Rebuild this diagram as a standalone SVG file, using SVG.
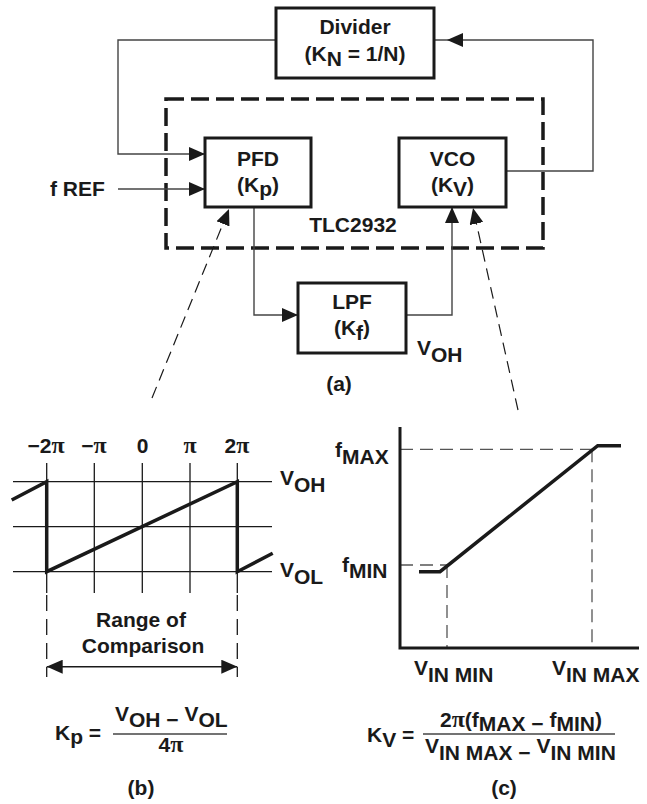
<svg xmlns="http://www.w3.org/2000/svg" width="647" height="804" viewBox="0 0 647 804">
<defs>
<style>
text{font-family:"Liberation Sans",Arial,sans-serif;font-weight:bold;font-size:21px;fill:#1a1a1a}
.m{text-anchor:middle}
.pi{font-family:"Liberation Serif","Times New Roman",serif;font-size:24px}
.box{fill:#fff;stroke:#1a1a1a;stroke-width:3}
.wire{fill:none;stroke:#444;stroke-width:1.4}
.tlc{fill:none;stroke:#1a1a1a;stroke-width:3.5;stroke-dasharray:18 7}
.ptr{fill:none;stroke:#1a1a1a;stroke-width:1.2;stroke-dasharray:12 7}
.grid{fill:none;stroke:#1a1a1a;stroke-width:1.3}
.bold{fill:none;stroke:#1a1a1a;stroke-width:3.5}
.gdash{fill:none;stroke:#555;stroke-width:1.3;stroke-dasharray:13 7}
.vdash{fill:none;stroke:#1a1a1a;stroke-width:1.3;stroke-dasharray:16 8}
.frac{stroke:#444;stroke-width:1.5}
.ah{fill:#1a1a1a}
</style>
<marker id="ah" viewBox="0 0 16 14" refX="16" refY="7" markerWidth="16" markerHeight="14" markerUnits="userSpaceOnUse" orient="auto-start-reverse"><path d="M0,0 L16,7 L0,14 z" fill="#1a1a1a"/></marker>
</defs>
<rect width="647" height="804" fill="#fff"/>

<g id="tlc2932">
<rect class="tlc" x="166" y="99" width="377" height="149"/>
<text class="m" x="353" y="232">TLC2932</text>
</g>

<g id="connectors">
<path class="wire" d="M276,40 H118 V154 H205" marker-end="url(#ah)"/>
<path class="wire" d="M118,189 H205" marker-end="url(#ah)"/>
<path class="wire" d="M507,171 H593 V40 H434"/>
<polygon class="ah" points="447,40 463,33 463,47"/>
<path class="wire" d="M254,207 V315 H298" marker-end="url(#ah)"/>
<path class="wire" d="M406,315 H452 V207" marker-end="url(#ah)"/>
<path class="ptr" d="M152,398 L229,209" marker-end="url(#ah)"/>
<path class="ptr" d="M518,410 L473,208" marker-end="url(#ah)"/>
</g>

<g id="divider">
<rect class="box" x="276" y="8" width="158" height="70"/>
<text class="m" x="355" y="34">Divider</text>
<text class="m" x="355" y="61">(K<tspan dy="5">N</tspan><tspan dy="-5"> = 1/N)</tspan></text>
</g>

<g id="pfd">
<rect class="box" x="205" y="138" width="106" height="69"/>
<text class="m" x="258" y="166">PFD</text>
<text class="m" x="258" y="192">(K<tspan dy="4">p</tspan><tspan dy="-4">)</tspan></text>
</g>

<g id="vco">
<rect class="box" x="399" y="138" width="107" height="69"/>
<text class="m" x="452.5" y="166">VCO</text>
<text class="m" x="452.5" y="192">(K<tspan dy="4">V</tspan><tspan dy="-4">)</tspan></text>
</g>

<g id="lpf">
<rect class="box" x="298" y="283" width="108" height="70"/>
<text class="m" x="352" y="309">LPF</text>
<text class="m" x="352" y="335">(K<tspan dy="5">f</tspan><tspan dy="-5">)</tspan></text>
</g>

<g id="labels-a">
<text x="50" y="196">f REF</text>
<text x="417" y="355">V<tspan dy="7">OH</tspan></text>
<text class="m" x="339" y="391">(a)</text>
</g>

<g id="graph-b">
<path class="grid" d="M13,481.7 H272 M13,526.7 H272 M13,571.7 H272 M46.7,463 V593 M94.3,463 V593 M142.3,463 V593 M190,463 V593 M237.3,463 V593"/>
<polyline class="bold" points="11.7,500 46.7,481.7 46.7,571.7 237.3,481.7 237.3,571.7 272.7,553.3"/>
<text class="m" x="46" y="453">−2<tspan class="pi">π</tspan></text>
<text class="m" x="94" y="453">−<tspan class="pi">π</tspan></text>
<text class="m" x="142.5" y="453">0</text>
<text class="m" x="190" y="453"><tspan class="pi">π</tspan></text>
<text class="m" x="237" y="453">2<tspan class="pi">π</tspan></text>
<text x="280" y="485">V<tspan dy="7">OH</tspan></text>
<text x="280" y="577">V<tspan dy="7">OL</tspan></text>
<path class="vdash" d="M46.7,595 V677 M237.3,595 V677"/>
<path class="wire" style="stroke:#1a1a1a;stroke-width:1.5" d="M46.7,666.7 H237.3" marker-start="url(#ah)" marker-end="url(#ah)"/>
<text class="m" x="141" y="627">Range of</text>
<text class="m" x="143" y="653">Comparison</text>
</g>

<g id="formula-b">
<text x="55" y="740">K<tspan dy="4">p</tspan><tspan dy="-4"> =</tspan></text>
<text x="115" y="721">V<tspan dy="6">OH − </tspan><tspan dy="-6">V</tspan><tspan dy="6">OL</tspan></text>
<line class="frac" x1="113" y1="734" x2="227" y2="734"/>
<text class="m" x="171" y="752">4<tspan class="pi">π</tspan></text>
<text class="m" x="141" y="795">(b)</text>
</g>

<g id="graph-c">
<path class="gdash" d="M400,449.3 H593 M592,449.3 V648 M400,565 H447 M447,565 V648"/>
<polyline class="bold" points="400,427 400,648 639,648" style="stroke-width:3"/>
<polyline class="bold" points="419,571.7 440,571.7 597.7,445.7 621,445.7"/>
<text x="335" y="457">f<tspan dy="7">MAX</tspan></text>
<text x="342" y="572">f<tspan dy="6">MIN</tspan></text>
<text x="414" y="675">V<tspan dy="7">IN MIN</tspan></text>
<text x="552" y="675">V<tspan dy="7">IN MAX</tspan></text>
</g>

<g id="formula-c">
<text x="367" y="742">K<tspan dy="5">V</tspan><tspan dy="-5"> =</tspan></text>
<text x="440" y="727">2<tspan class="pi">π</tspan>(f<tspan dy="4">MAX − </tspan><tspan dy="-4">f</tspan><tspan dy="4">MIN</tspan><tspan dy="-4">)</tspan></text>
<line class="frac" x1="423" y1="734" x2="615" y2="734"/>
<text x="425" y="753">V<tspan dy="7">IN MAX − </tspan><tspan dy="-7">V</tspan><tspan dy="7">IN MIN</tspan></text>
<text class="m" x="504" y="795">(c)</text>
</g>
</svg>
